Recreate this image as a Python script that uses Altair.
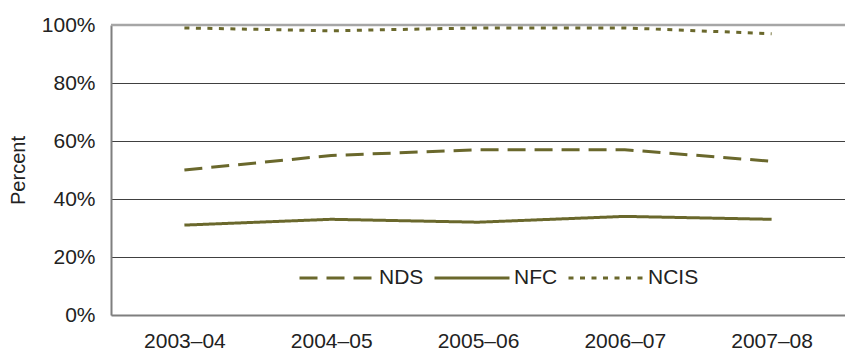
import altair as alt
import pandas as pd

years = ["2003–04", "2004–05", "2005–06", "2006–07", "2007–08"]
nds = [50, 55, 57, 57, 53]
nfc = [31, 33, 32, 34, 33]
ncis = [99, 98, 99, 99, 97]

series_names = ["NDS", "NFC", "NCIS"]
series_values = [nds, nfc, ncis]
dash_styles = [[18, 9], [1, 0], [5, 6.5]]

LINE_COLOR = "#6a682c"
FONT = "Liberation Sans"
TEXT_COLOR = "#222222"
FS = 21

rows = []
for name, vals in zip(series_names, series_values):
    for yr, v in zip(years, vals):
        rows.append({"year": yr, "series": name, "value": v})
df = pd.DataFrame(rows)

x_enc = alt.X(
    "year:O",
    sort=years,
    scale=alt.Scale(type="point", padding=0.5),
    axis=alt.Axis(
        title=None,
        labelAngle=0,
        ticks=False,
        domainColor="#7f7f7f",
        domainWidth=2,
        labelFontSize=FS,
        labelPadding=15,
        labelColor=TEXT_COLOR,
        grid=False,
    ),
)

y_scale = alt.Scale(domain=[0, 100], nice=False)

lines = alt.Chart(df).mark_line(strokeWidth=3, color=LINE_COLOR).encode(
    x=x_enc,
    y=alt.Y(
        "value:Q",
        scale=y_scale,
        axis=alt.Axis(
            title="Percent",
            titleFontSize=FS - 1,
            titleFontWeight="normal",
            titleColor=TEXT_COLOR,
            titlePadding=13,
            values=[0, 20, 40, 60, 80, 100],
            labelExpr="datum.value + '%'",
            ticks=False,
            domainColor="#7f7f7f",
            domainWidth=2,
            labelFontSize=FS,
            labelPadding=16,
            labelColor=TEXT_COLOR,
            grid=True,
            gridColor={
                "condition": {"test": "datum.value === 100 || datum.value === 0", "value": "transparent"},
                "value": "#404040",
            },
            gridWidth=1.2,
        ),
    ),
    strokeDash=alt.StrokeDash(
        "series:N",
        scale=alt.Scale(domain=series_names, range=dash_styles),
        legend=alt.Legend(
            title=None,
            orient="none",
            legendX=187,
            legendY=214,
            direction="horizontal",
            symbolType="stroke",
            symbolSize=5625,
            symbolStrokeWidth=3,
            symbolStrokeColor=LINE_COLOR,
            labelFontSize=FS,
            labelColor=TEXT_COLOR,
            labelOffset=3,
            columnPadding=4,
        ),
    ),
)

# light frame line along the top of the plot area
top = alt.Chart(pd.DataFrame({"v": [100]})).mark_rule(color="#a6a6a6", strokeWidth=2.5).encode(
    y=alt.Y("v:Q", scale=y_scale)
)

chart = (
    alt.layer(top, lines)
    .properties(
        width=734,
        height=290,
        autosize=alt.AutoSizeParams(type="none"),
        padding={"left": 111, "top": 25, "right": 0, "bottom": 37},
    )
    .configure_view(stroke=None)
    .configure(font=FONT)
)

chart.save("out.html", embed_options={"renderer": "svg", "actions": False})
